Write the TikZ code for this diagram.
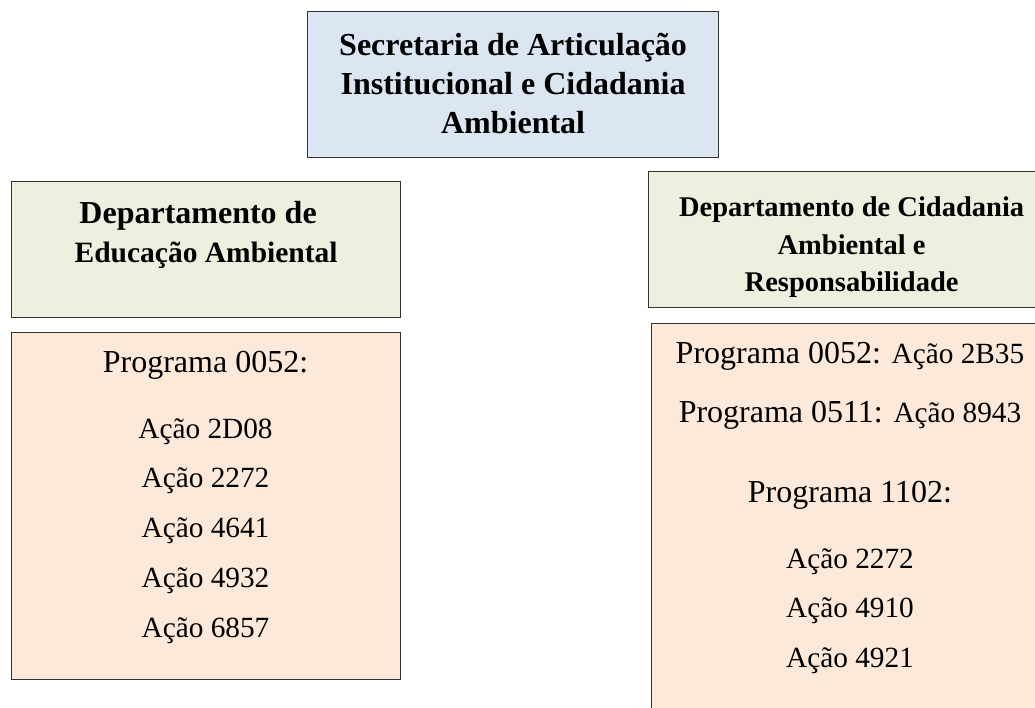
\documentclass[tikz,border=0pt]{standalone}
\usepackage{fontspec}
\setmainfont{Liberation Serif}
\usetikzlibrary{positioning}

\definecolor{azulcaixa}{HTML}{DCE6F2}
\definecolor{verdecaixa}{HTML}{EBF1DE}
\definecolor{pessegocaixa}{HTML}{FDE9D9}

\tikzset{
  caixa/.style={draw=black!80, line width=1.2pt, rectangle, inner sep=0pt, anchor=north west},
  titulo/.style={font=\fontsize{32}{39}\selectfont\bfseries, align=center, inner sep=0pt},
  titulomenor/.style={titulo, font=\fontsize{28.5}{37.5}\selectfont\bfseries},
  programa/.style={font=\fontsize{32}{38}\selectfont, anchor=base, inner sep=0pt},
  acao/.style={font=\fontsize{29.3}{35}\selectfont, anchor=base, inner sep=0pt},
}
\newcommand{\acaotexto}{\fontsize{29.3}{35}\selectfont}

\begin{document}
\begin{tikzpicture}[x=1pt,y=-1pt]

\useasboundingbox (0,0) rectangle (1035,708);
\clip (0,0) rectangle (1035,708);

% caixas
\node[caixa, fill=azulcaixa, minimum width=411pt, minimum height=146pt] (secretaria) at (307,11) {};
\node[caixa, fill=verdecaixa, minimum width=389pt, minimum height=136pt] (dea) at (11,181) {};
\node[caixa, fill=verdecaixa, minimum width=406pt, minimum height=136pt] (dcar) at (648,171) {};
\node[caixa, fill=pessegocaixa, minimum width=389pt, minimum height=347pt] (dea-lista) at (11,332) {};
\node[caixa, fill=pessegocaixa, minimum width=398pt, minimum height=420pt] (dcar-lista) at (651,323) {};

% titulos
\node[titulo, below=22.5pt of secretaria.north] (secretaria-txt)
  {Secretaria de Articulação\\Institucional e Cidadania\\Ambiental};
\node[titulo, below=20pt of dea.north] (dea-txt)
  {Departamento de\hspace*{16pt}\\{\fontsize{29.5}{39}\selectfont Educação Ambiental}};
\node[titulomenor, below=26pt of dcar.north] (dcar-txt)
  {Departamento de Cidadania\\Ambiental e\\Responsabilidade};

% departamento de educacao ambiental
\node[programa] (dea-prog) at (205.5,372) {Programa 0052:};
\foreach \acao [count=\i] in {2D08,2272,4641,4932,6857}{%
    \node[acao] (dea-acao-\i) at (205.5,438+49.75*\i-49.75) {Ação \acao};}

% departamento de cidadania ambiental e responsabilidade
\node[programa] (dcar-prog-1) at (850,363) {Programa 0052: {\acaotexto Ação 2B35}};
\node[programa] (dcar-prog-2) at (850,422) {Programa 0511: {\acaotexto Ação 8943}};
\node[programa] (dcar-prog-3) at (850,502) {Programa 1102:};
\foreach \acao [count=\i] in {2272,4910,4921}{%
    \node[acao] (dcar-acao-\i) at (850,568+49.75*\i-49.75) {Ação \acao};}

\end{tikzpicture}
\end{document}
